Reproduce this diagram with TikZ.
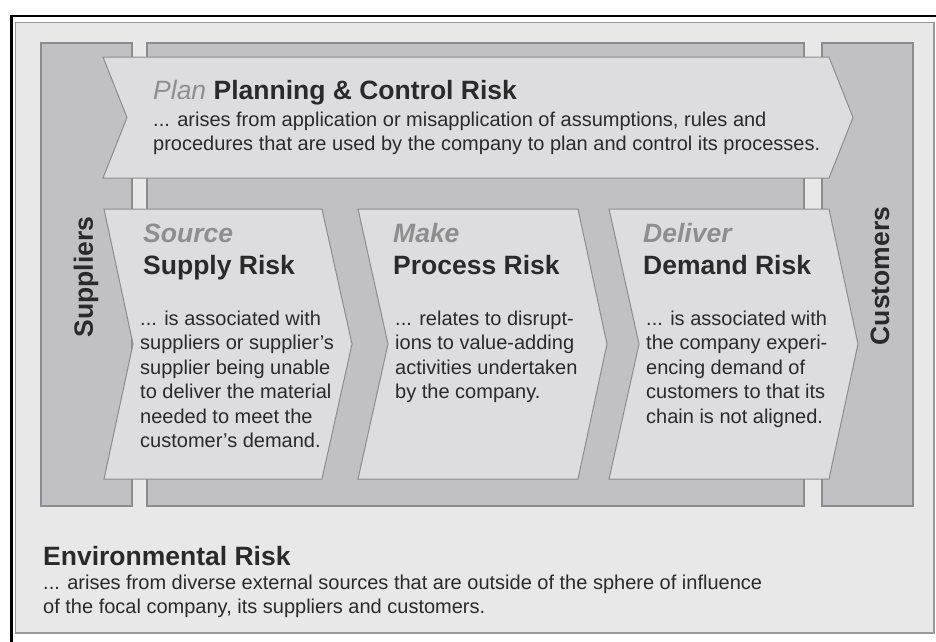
\documentclass[tikz,border=0pt]{standalone}
\usepackage{fontspec}
\setmainfont{Liberation Sans}
\usepackage{tikz}

\definecolor{panelgray}{HTML}{E8E8E8}
\definecolor{bargray}{HTML}{C1C1C3}
\definecolor{chevgray}{HTML}{DDDDDF}
\definecolor{edgegray}{HTML}{8C8C8C}
\definecolor{labelgray}{HTML}{8E8E8E}
\definecolor{inkgray}{HTML}{2A2A2A}

\tikzset{
  bar/.style={fill=bargray, draw=edgegray, line width=1.2pt},
  chev/.style={fill=chevgray, draw=edgegray, line width=1pt, line join=miter},
  phase/.style={anchor=base west, inner sep=0pt, text=labelgray,
    font=\fontsize{26.5}{30}\selectfont\bfseries\itshape},
  title/.style={anchor=base west, inner sep=0pt, text=inkgray,
    font=\fontsize{26.5}{30}\selectfont\bfseries},
  body/.style={anchor=north west, inner sep=0pt, align=left, text=inkgray,
    font=\fontsize{20}{24.5}\selectfont},
  side/.style={rotate=90, inner sep=0pt, text=inkgray,
    font=\fontsize{26.5}{30}\selectfont\bfseries}
}

\begin{document}
\begin{tikzpicture}[x=1pt, y=-1pt]
    \useasboundingbox (0,0) rectangle (936,641);
    \fill[white] (0,0) rectangle (936,641);

    % frame and panel
    \draw[line width=2.5pt] (11.5,660) -- (11.5,16) -- (950,16);
    \draw[fill=panelgray, draw=gray!80, line width=1.2pt] (15.5,22.5) rectangle (934,633);

    % suppliers, company, customers
    \draw[bar] (41,43) rectangle (132,506);
    \draw[bar] (147,43) rectangle (804,506);
    \draw[bar] (822,43) rectangle (913,506);

    % chevrons
    \draw[chev] (103,57) -- (829,57) -- (853,117.5) -- (829,178) -- (103,178) -- (127,117.5) -- cycle;
    \draw[chev] (104,209) -- (322,209) -- (352,344) -- (322,479) -- (104,479) -- (133,344) -- cycle;
    \draw[chev] (358,209) -- (578,209) -- (607,344) -- (578,479) -- (358,479) -- (388,344) -- cycle;
    \draw[chev] (609,209) -- (829,209) -- (858,344) -- (829,479) -- (609,479) -- (639,344) -- cycle;

    \node[side] (suppliers) at (86,277) {Suppliers};
    \node[side] (customers) at (880,276) {Customers};

    \node[title] (plan) at (153,99) {\textcolor{labelgray}{\mdseries\itshape Plan} Planning \& Control Risk};
    \node[body] (plantext) at (153,111.5) {... arises from application or misapplication of assumptions, rules and\\
      procedures that are used by the company to plan and control its processes.};

    \node[phase] (source) at (143,242) {Source};
    \node[title] (supply) at (143,274) {Supply Risk};
    \node[body] (supplytext) at (140,310.5) {... is associated with\\ suppliers or supplier's\\
      supplier being unable\\ to deliver the material\\ needed to meet the\\ customer's demand.};

    \node[phase] (make) at (393,242) {Make};
    \node[title] (process) at (393,274) {Process Risk};
    \node[body] (processtext) at (395,310.5) {... relates to disrupt-\\ ions to value-adding\\
      activities undertaken\\ by the company.};

    \node[phase] (deliver) at (643,242) {Deliver};
    \node[title] (demand) at (643,274) {Demand Risk};
    \node[body] (demandtext) at (646,310.5) {... is associated with\\ the company experi-\\
      encing demand of\\ customers to that its\\ chain is not aligned.};

    \node[title] (env) at (43,565) {Environmental Risk};
    \node[body] (envtext) at (43,574.5) {... arises from diverse external sources that are outside of the sphere of influence\\
      of the focal company, its suppliers and customers.};
\end{tikzpicture}
\end{document}
